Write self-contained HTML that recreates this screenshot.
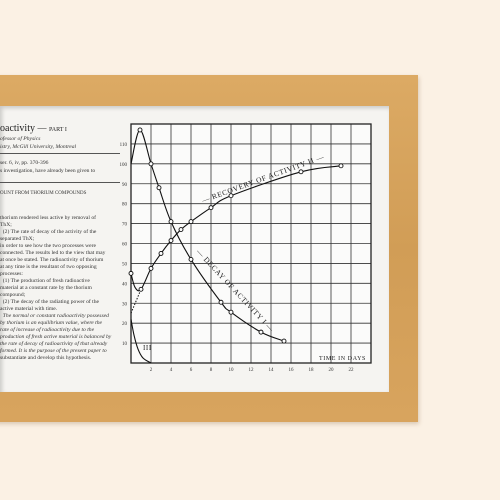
<!DOCTYPE html>
<html><head><meta charset="utf-8"><style>
html,body{margin:0;padding:0;width:500px;height:500px;overflow:hidden;background:#fbf1e4;font-family:"Liberation Serif",serif}
#frame{position:absolute;left:-20px;top:75px;width:438px;height:347px;background:linear-gradient(180deg,#dcaa64,#d19d56 50%,#d8a45e);box-shadow:1px 2px 4px rgba(120,80,40,.25)}
#mat{position:absolute;left:0;top:106px;width:389px;height:286px;background:#f5f4f1;box-shadow:inset 2px 2px 4px rgba(0,0,0,.18)}
.t{position:absolute;left:0;white-space:nowrap;color:#333;font-size:5.6px}
</style></head><body>
<div id="frame"></div>
<div id="mat"></div>
<div>
<div class="t" style="top:123px;font-size:10px;color:#222">oactivity <span style="font-size:9px">—</span> <span style="font-size:6px">PART I</span></div>
<div class="t" style="top:136px;font-style:italic">ofessor of Physics</div>
<div class="t" style="top:144px;font-style:italic">istry, McGill University, Montreal</div>
<div style="position:absolute;left:0;top:153px;width:120px;border-top:0.7px solid #555"></div>
<div class="t" style="top:160px">ser. 6, iv, pp. 370-396</div>
<div class="t" style="top:168px">s investigation, have already been given to</div>
<div style="position:absolute;left:0;top:182px;width:120px;border-top:0.7px solid #555"></div>
<div class="t" style="top:191px;font-size:5px">OUNT FROM THORIUM COMPOUNDS</div>
<div class="t" style="top:215px">thorium rendered less active by removal of</div>
<div class="t" style="top:222px">ThX;</div>
<div class="t" style="top:229px">&nbsp;&nbsp;(2) The rate of decay of the activity of the</div>
<div class="t" style="top:236px">separated ThX;</div>
<div class="t" style="top:243px">in order to see how the two processes were</div>
<div class="t" style="top:250px">connected. The results led to the view that may</div>
<div class="t" style="top:257px">at once be stated. The radioactivity of thorium</div>
<div class="t" style="top:264px">at any time is the resultant of two opposing</div>
<div class="t" style="top:271px">processes:</div>
<div class="t" style="top:278px">&nbsp;&nbsp;(1) The production of fresh radioactive</div>
<div class="t" style="top:285px">material at a constant rate by the thorium</div>
<div class="t" style="top:292px">compound;</div>
<div class="t" style="top:299px">&nbsp;&nbsp;(2) The decay of the radiating power of the</div>
<div class="t" style="top:306px">active material with time.</div>
<div class="t" style="top:313px;font-style:italic">&nbsp;&nbsp;The normal or constant radioactivity possessed</div>
<div class="t" style="top:320px;font-style:italic">by thorium is an equilibrium value, where the</div>
<div class="t" style="top:327px;font-style:italic">rate of increase of radioactivity due to the</div>
<div class="t" style="top:334px;font-style:italic">production of fresh active material is balanced by</div>
<div class="t" style="top:341px;font-style:italic">the rate of decay of radioactivity of that already</div>
<div class="t" style="top:348px;font-style:italic">formed. It is the purpose of the present paper to</div>
<div class="t" style="top:355px">substantiate and develop this hypothesis.</div>
</div>
<svg id="chart" width="500" height="500" style="position:absolute;left:0;top:0"></svg>
<script>
const xTicks=[2,4,6,8,10,12,14,16,18,20,22];
const yTicks=[10,20,30,40,50,60,70,80,90,100,110];
const decayX=[0,0.9,2,2.8,4,6,9,10,13,15.3];
const decayY=[100,117,100,88,71,52,30.5,25.5,15.5,11];
const decayMarkX=[0.9,2,2.8,4,6,9,10,13,15.3];
const decayMarkY=[117,100,88,71,52,30.5,25.5,15.5,11];
const recX=[0,0.4,1,2,3,4,5,6,8,10,17,21];
const recY=[45,38,37,47.5,55,61.5,67,71,78,84,96,99];
const recMarkX=[0,1,2,3,4,5,6,8,10,17,21];
const recMarkY=[45,37,47.5,55,61.5,67,71,78,84,96,99];
const threeX=[0,0.3,0.7,1.2,2];
const threeY=[22,14,7,2.5,0];
const L=131,T=124,R=371,B=363;
const sx=d=>L+d*(R-L)/24, sy=v=>B-v*(B-T)/120;
const svg=document.getElementById('chart');const NS='http://www.w3.org/2000/svg';
function mk(tag,attrs,parent){const e=document.createElementNS(NS,tag);for(const k in attrs)e.setAttribute(k,attrs[k]);(parent||svg).appendChild(e);return e;}
const bg=mk('rect',{x:L,y:T,width:R-L,height:B-T,fill:'#fbfbfa'});


for(let d=2;d<24;d+=2){const g=mk('line',{x1:sx(d),x2:sx(d),y1:T,y2:B,stroke:'#333','stroke-width':0.8});

}
yTicks.forEach(v=>{const g=mk('line',{x1:L,x2:R,y1:sy(v),y2:sy(v),stroke:'#333','stroke-width':0.8});


const t=mk('text',{x:L-4,y:sy(v)+2,'font-size':5,'text-anchor':'end',fill:'#333','font-family':'Liberation Serif'});t.textContent=v;

});
xTicks.forEach(d=>{const t=mk('text',{x:sx(d),y:B+8,'font-size':5,'text-anchor':'middle',fill:'#333','font-family':'Liberation Serif'});t.textContent=d;

});
const box=mk('rect',{x:L,y:T,width:R-L,height:B-T,fill:'none',stroke:'#222','stroke-width':1.3});


function path(xs,ys){const p=xs.map((x,i)=>[sx(x),sy(ys[i])]);let d='M'+p[0];for(let i=0;i<p.length-1;i++){const p0=p[i-1]||p[i],p1=p[i],p2=p[i+1],p3=p[i+2]||p2;d+=' C'+(p1[0]+(p2[0]-p0[0])/6)+','+(p1[1]+(p2[1]-p0[1])/6)+' '+(p2[0]-(p3[0]-p1[0])/6)+','+(p2[1]-(p3[1]-p1[1])/6)+' '+p2[0]+','+p2[1];}return d;}
const c1=mk('path',{d:path(decayX,decayY),fill:'none',stroke:'#111','stroke-width':1.1});


const c2=mk('path',{d:path(recX,recY),fill:'none',stroke:'#111','stroke-width':1.1});


const c3=mk('path',{d:path(threeX,threeY),fill:'none',stroke:'#111','stroke-width':1.1});


const dl=mk('line',{x1:sx(0),y1:sy(25),x2:sx(1),y2:sy(37),stroke:'#111','stroke-width':1,'stroke-dasharray':'1.5,1.5'});


decayMarkX.forEach((x,i)=>{const c=mk('circle',{cx:sx(x),cy:sy(decayMarkY[i]),r:2,fill:'#fff',stroke:'#111','stroke-width':0.9});

});
recMarkX.forEach((x,i)=>{const c=mk('circle',{cx:sx(x),cy:sy(recMarkY[i]),r:2,fill:'#fff',stroke:'#111','stroke-width':0.9});

});
function lab(txt,x,y,rot,name,fs){const t=mk('text',{x:x,y:y,'font-size':fs||7,fill:'#222','font-family':'Liberation Serif','letter-spacing':'0.6',transform:`rotate(${rot} ${x} ${y})`});t.textContent=txt;

}
lab('— RECOVERY OF ACTIVITY II —',203,203,-20,'recovery-label',7.5);
lab('— DECAY OF ACTIVITY I —',196,252,47,'decay-label',7.5);
lab('III',143,350,0,'activity-3-label');
lab('TIME IN DAYS',319,360,0,'x-axis-title',6);
</script>
</body></html>
